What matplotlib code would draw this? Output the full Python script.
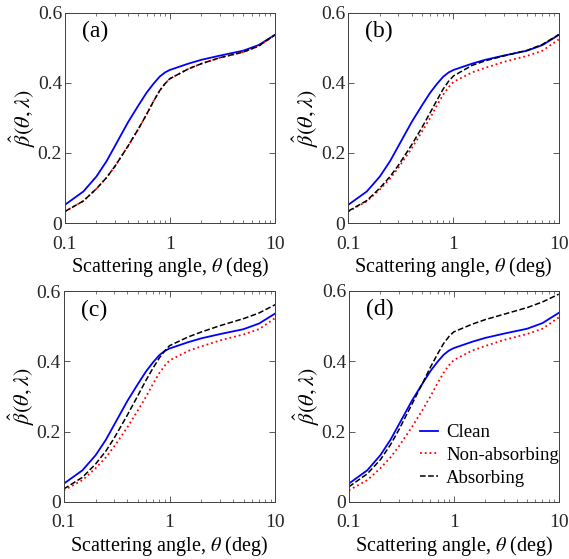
import matplotlib
matplotlib.use("Agg")
from matplotlib import pyplot as plt
from matplotlib.ticker import LogLocator, NullFormatter, FixedLocator

plt.rcParams['font.family'] = ['Liberation Serif', 'DejaVu Serif']
plt.rcParams['mathtext.fontset'] = 'stix'

# scattering angle (deg)
angle = [0.1, 0.15, 0.2, 0.25, 0.3, 0.4, 0.5, 0.6, 0.7, 0.8, 0.9, 1, 1.5, 2, 3, 5, 7, 10]

# clean case, same in all panels
clean = [0.052, 0.09, 0.133, 0.177, 0.22, 0.288, 0.335, 0.372, 0.398, 0.418, 0.43, 0.437,
         0.455, 0.466, 0.478, 0.492, 0.508, 0.537]

# panel (a): non-absorbing and absorbing lie on top of each other
nonabs_a = [0.033, 0.063, 0.098, 0.13, 0.162, 0.22, 0.268, 0.31, 0.348, 0.378, 0.398, 0.412,
            0.44, 0.455, 0.472, 0.488, 0.505, 0.537]
abs_a = nonabs_a

# non-absorbing for (b), (c), (d)
nonabs = [0.033, 0.062, 0.096, 0.127, 0.158, 0.213, 0.26, 0.3, 0.337, 0.367, 0.388, 0.403,
          0.43, 0.443, 0.46, 0.477, 0.492, 0.524]

abs_b = [0.034, 0.064, 0.1, 0.133, 0.165, 0.223, 0.272, 0.315, 0.352, 0.383, 0.405, 0.42,
         0.45, 0.463, 0.477, 0.493, 0.51, 0.538]
abs_c = [0.037, 0.07, 0.108, 0.145, 0.182, 0.248, 0.302, 0.347, 0.382, 0.41, 0.43, 0.445,
         0.47, 0.484, 0.502, 0.522, 0.538, 0.562]
abs_d = [0.043, 0.08, 0.12, 0.163, 0.205, 0.278, 0.335, 0.383, 0.42, 0.45, 0.47, 0.483,
         0.505, 0.518, 0.533, 0.552, 0.568, 0.59]

panels = ['(a)', '(b)', '(c)', '(d)']
nonabs_all = [nonabs_a, nonabs, nonabs, nonabs]
abs_all = [abs_a, abs_b, abs_c, abs_d]

# axes boxes in figure fraction
boxes = [[0.114, 0.601, 0.369, 0.376],
         [0.612, 0.601, 0.370, 0.376],
         [0.112, 0.102, 0.372, 0.377],
         [0.613, 0.102, 0.369, 0.378]]

fig = plt.figure(figsize=(5.69, 5.59), dpi=100)

for i in range(4):
    ax = fig.add_axes(boxes[i])
    ax.plot(angle, clean, '-', color='#0000ff', lw=1.3, label='Clean')
    ax.plot(angle, nonabs_all[i], ':', color='#ff0000', lw=1.3, label='Non-absorbing')
    ax.plot(angle, abs_all[i], '--', color='k', lw=1.1, label='Absorbing')
    ax.set_xscale('log')
    ax.set_xlim(0.1, 10)
    ax.set_ylim(0, 0.6)
    ax.set_xticks([0.1, 1, 10])
    ax.set_xticklabels(['0.1', '1', '10'])
    ax.xaxis.set_minor_locator(LogLocator(base=10, subs=range(2, 10)))
    ax.xaxis.set_minor_formatter(NullFormatter())
    ax.yaxis.set_major_locator(FixedLocator([0, 0.2, 0.4, 0.6]))
    ax.set_yticklabels(['0', '0.2', '0.4', '0.6'])
    ax.tick_params(which='both', direction='in', top=True, right=True,
                   labelsize=14, colors='#404040', labelcolor='#262626')
    ax.tick_params(axis='x', pad=9)
    ax.tick_params(axis='y', pad=2)
    ax.tick_params(which='major', length=4, width=0.6)
    ax.tick_params(which='minor', length=2, width=0.5)
    for s in ax.spines.values():
        s.set_color('#404040')
        s.set_linewidth(0.7)
    ax.set_xlabel(r'Scattering angle, $\theta$ (deg)', fontsize=14.5, labelpad=2)
    ax.set_ylabel(r'$\hat{\beta}(\theta,\lambda)$', fontsize=16, labelpad=0)
    ax.text(0.08, 0.91, panels[i], transform=ax.transAxes, fontsize=17,
            va='center', ha='left')
    if i == 3:
        ax.legend(loc='lower left', bbox_to_anchor=(0.276, 0.01), frameon=False,
                  fontsize=13.5, handlelength=0.95, handletextpad=0.45,
                  labelspacing=0.3, borderaxespad=0.3)

plt.savefig('out.png', dpi=100)
